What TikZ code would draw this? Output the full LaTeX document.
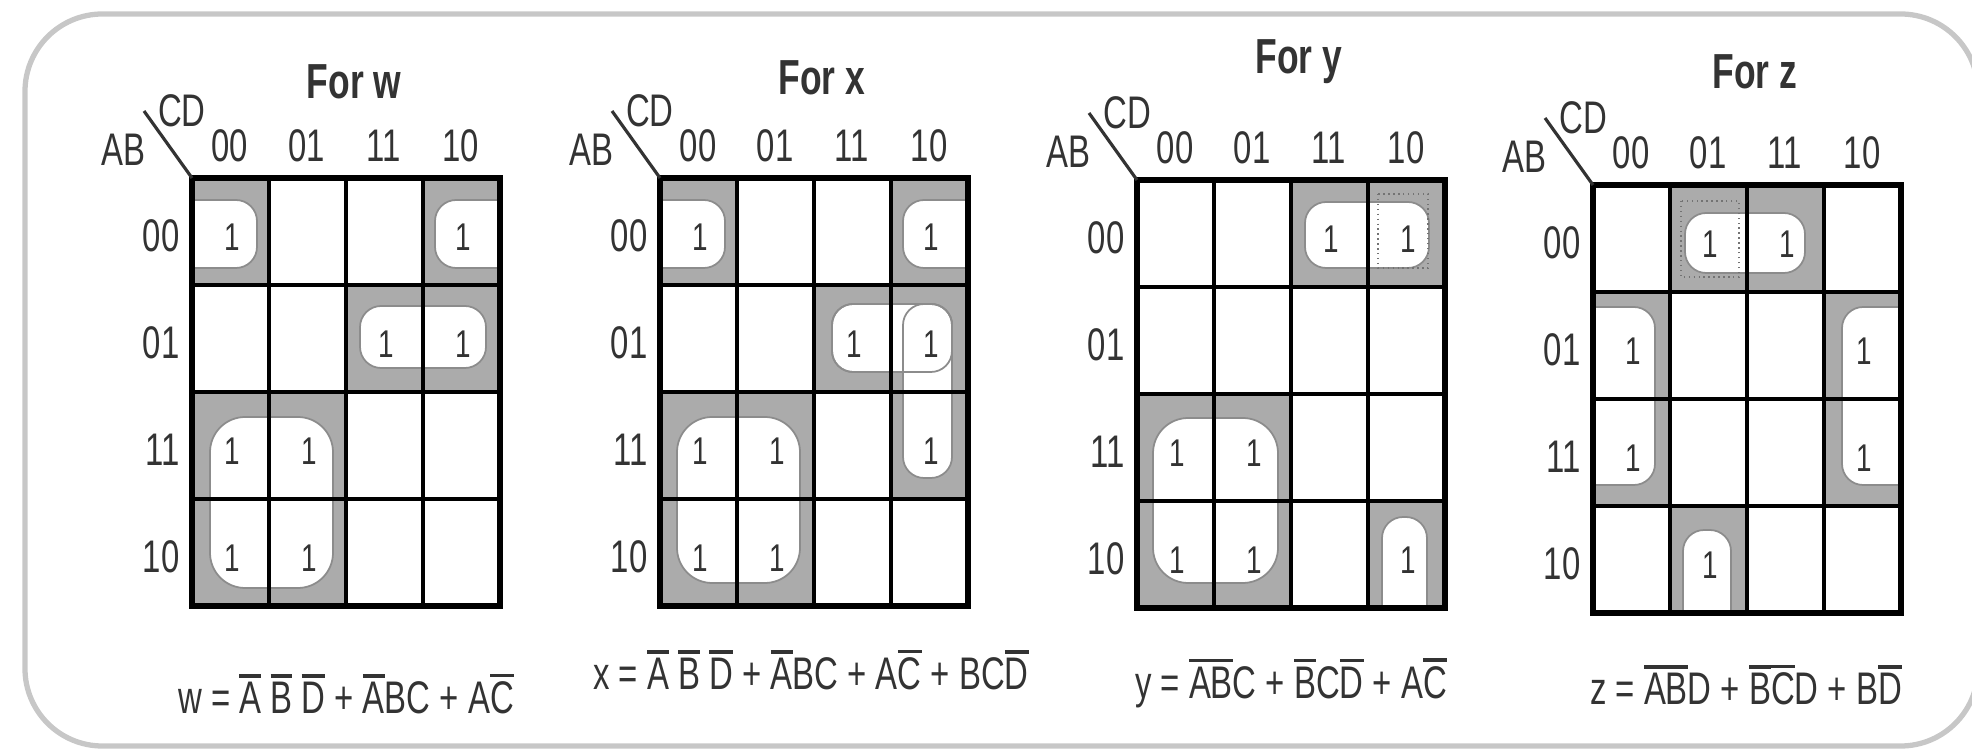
\documentclass[tikz,border=0pt]{standalone}
\usepackage{fontspec}
\setmainfont{Liberation Sans}
\newcommand{\nt}[1]{\leavevmode\vbox{\hrule height 1pt\kern 1.2pt\hbox{#1}}}
\tikzset{
 frame/.style={draw=black!22,line width=1.5pt,rounded corners=22pt},
 grp/.style={fill=black!33},
 ring/.style={fill=white,draw=black!45,line width=0.5pt,rounded corners=#1},
 ring/.default=6pt,
 dotring/.style={draw=black!55,line width=0.4pt,densely dotted},
 inner/.style={line width=1.2pt},
 outer/.style={line width=1.8pt},
 lbl/.style={font=\fontsize{13}{13}\selectfont,text=black!80,xscale=0.72,inner sep=0pt},
 ttl/.style={lbl,font=\bfseries\fontsize{14}{14}\selectfont},
 one/.style={lbl,font=\fontsize{11}{11}\selectfont},
 eqn/.style={lbl}
}
\begin{document}
\begin{tikzpicture}[x=0.01cm,y=-0.01cm]
 \useasboundingbox (0,0) rectangle (1972,752);
 \draw[frame] (25,14) rectangle (1978,746);
 % groups of w
 \begin{scope}[shift={(192,178)}]
  \clip (0,0) rectangle (308,428);
  \fill[grp] (0,0) rectangle (77,107) (231,0) rectangle (308,107)
   (154,107) rectangle (308,214) (0,214) rectangle (154,428);
  \filldraw[ring] (-30,22) rectangle (65,90);
  \filldraw[ring] (243,22) rectangle (338,90);
  \filldraw[ring] (168,128) rectangle (294,190);
  \filldraw[ring=10pt] (18,239) rectangle (141,410);
 \end{scope}
 % groups of x
 \begin{scope}[shift={(660,178)}]
  \clip (0,0) rectangle (308,428);
  \fill[grp] (0,0) rectangle (77,107) (231,0) rectangle (308,107)
   (154,107) rectangle (308,214) (231,214) rectangle (308,321)
   (0,214) rectangle (154,428);
  \filldraw[ring] (-30,22) rectangle (65,90);
  \filldraw[ring] (243,22) rectangle (338,90);
  \filldraw[ring] (172,126) rectangle (292,194);
  \filldraw[ring] (243,126) rectangle (292,300);
  \draw[ring,fill=none] (172,126) rectangle (292,194);
  \filldraw[ring=10pt] (17,239) rectangle (140,405);
 \end{scope}
 % groups of y
 \begin{scope}[shift={(1137,180)}]
  \clip (0,0) rectangle (308,428);
  \fill[grp] (154,0) rectangle (308,107) (231,321) rectangle (308,428)
   (0,214) rectangle (154,428);
  \filldraw[ring] (168,22) rectangle (292,88);
  \draw[dotring] (241,14) rectangle (291,88);
  \filldraw[ring] (245,337) rectangle (290,460);
  \filldraw[ring=10pt] (16,238) rectangle (141,403);
 \end{scope}
 % groups of z
 \begin{scope}[shift={(1593,185)}]
  \clip (0,0) rectangle (308,428);
  \fill[grp] (77,0) rectangle (231,107) (77,321) rectangle (154,428)
   (0,107) rectangle (77,321) (231,107) rectangle (308,321);
  \filldraw[ring] (92,28) rectangle (212,88);
  \draw[dotring] (88,16) rectangle (146,92);
  \filldraw[ring] (90,345) rectangle (138,460);
  \filldraw[ring] (-30,122) rectangle (62,300);
  \filldraw[ring] (249,122) rectangle (338,300);
 \end{scope}
 % grids and labels
 \foreach \ox/\oy/\fn/\ty in {192/178/w/82,660/178/x/78,1137/180/y/62,1593/185/z/72}{
  \begin{scope}[shift={(\ox,\oy)}]
   \foreach \i in {1,2,3}{
    \draw[inner] ({77*\i},0) -- ({77*\i},428);
    \draw[inner] (0,{107*\i}) -- (308,{107*\i});
   }
   \draw[outer] (0,0) rectangle (308,428);
   \coordinate (k\fn) at (0,0);
   \draw[line width=0.9pt,black!80] (k\fn) -- ++(-48,-67);
   \node[lbl] (cd\fn) at (-10,-67) {CD};
   \node[lbl] (ab\fn) at (-69,-28) {AB};
   \node[ttl] (ttl\fn) at (162,{\ty-\oy}) {For \fn};
   \foreach \l [count=\i from 0] in {00,01,11,10}{
    \node[lbl] (c\fn\i) at ({77*\i+38},-32) {\l};
    \node[lbl,anchor=east] (r\fn\i) at (-12,{107*\i+58}) {\l};
   }
  \end{scope}
 }
 % the ones
 \foreach \fn/\ox/\oy/\cells in {w/192/178/{0/0,3/0,2/1,3/1,0/2,1/2,0/3,1/3},
   x/660/178/{0/0,3/0,2/1,3/1,0/2,1/2,3/2,0/3,1/3},
   y/1137/180/{2/0,3/0,0/2,1/2,0/3,1/3,3/3},
   z/1593/185/{1/0,2/0,0/1,3/1,0/2,3/2,1/3}}{
  \begin{scope}[shift={(\ox,\oy)}]
   \foreach \c/\r in \cells
    \node[one] (\fn\c\r) at ({77*\c+40},{107*\r+59}) {1};
  \end{scope}
 }
 % equations
 \node[eqn] (eqw) at (346,694) {w = \nt{A} \nt{B} \nt{D} + \nt{A}BC + A\nt{C}};
 \node[eqn] (eqx) at (811,670) {x = \nt{A} \nt{B} \nt{D} + \nt{A}BC + A\nt{C} + BC\nt{D}};
 \node[eqn] (eqy) at (1291,683) {y = \nt{A}\nt{B}C + \nt{B}C\nt{D} + A\nt{C}};
 \node[eqn] (eqz) at (1746,685) {z = \nt{A}\nt{B}D + \nt{B}\nt{C}D + B\nt{D}};
\end{tikzpicture}
\end{document}
